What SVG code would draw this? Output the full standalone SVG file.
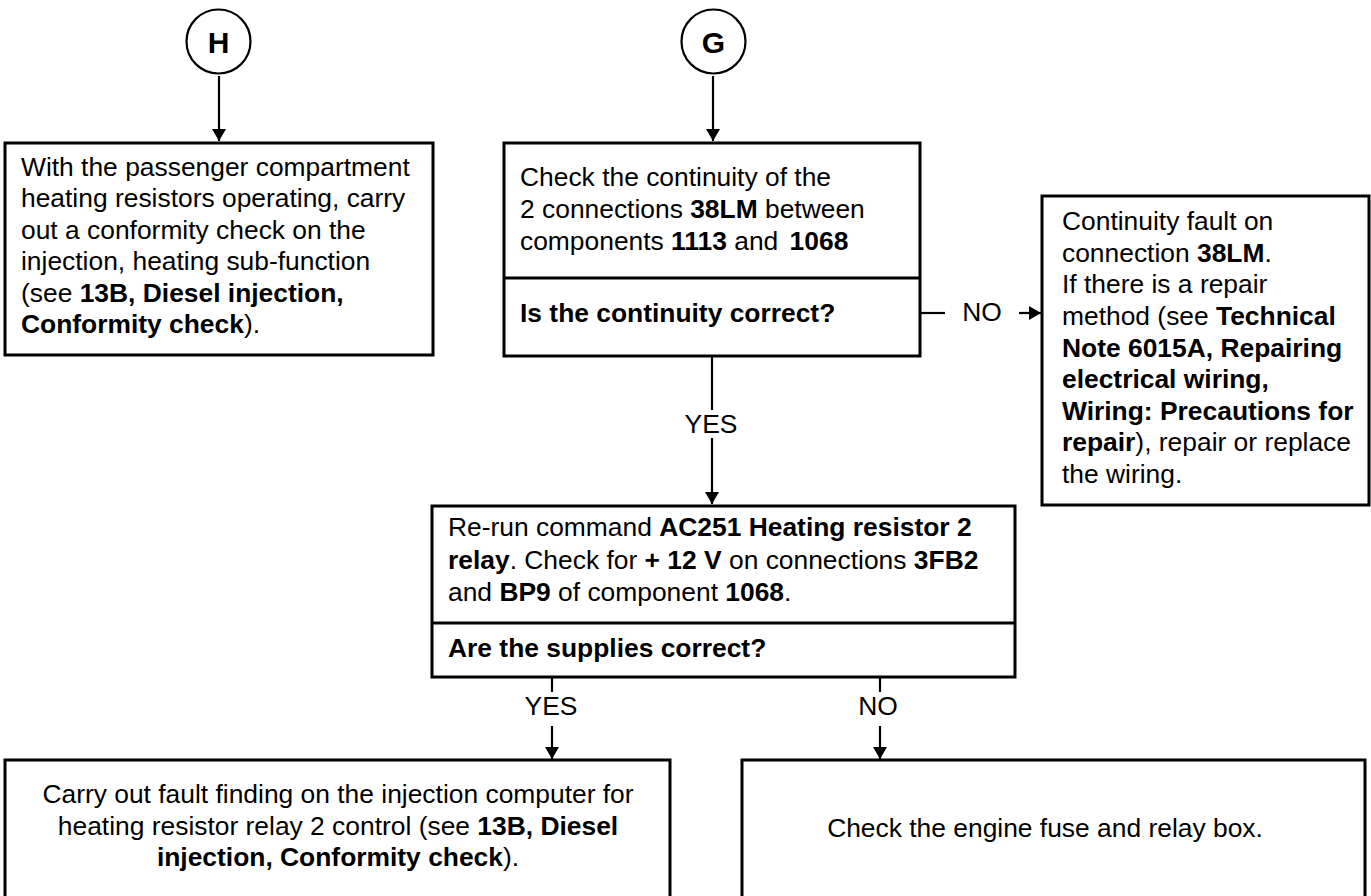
<svg xmlns="http://www.w3.org/2000/svg" width="1371" height="896" viewBox="0 0 1371 896">
<style>
text{font-family:"Liberation Sans",Arial,sans-serif;font-size:26.4px;fill:#000}
.b{font-weight:bold}
.box{fill:#fff;stroke:#000;stroke-width:3}
.sep{stroke:#000;stroke-width:3}
.circ{fill:#fff;stroke:#000;stroke-width:2.2}
.ltr{font-size:30px;font-weight:bold;text-anchor:middle}
.con{stroke:#000;stroke-width:2.2;fill:none}
.lbl{text-anchor:middle}
.mid{text-anchor:middle}
</style>
<defs>
<marker id="ah" markerUnits="userSpaceOnUse" markerWidth="14" markerHeight="14" refX="12" refY="7" orient="auto">
<path d="M0,0 L12,7 L0,14 z" fill="#000"/>
</marker>
</defs>
<rect width="1371" height="896" fill="#fff"/>

<g id="conn">
<line class="con" x1="219" y1="76" x2="219" y2="141" marker-end="url(#ah)"/>
<line class="con" x1="713" y1="76" x2="713" y2="141" marker-end="url(#ah)"/>
<line class="con" x1="920" y1="313" x2="945" y2="313"/>
<text class="lbl" x="982" y="321">NO</text>
<line class="con" x1="1019" y1="313" x2="1041" y2="313" marker-end="url(#ah)"/>
<line class="con" x1="712" y1="356" x2="712" y2="410"/>
<text class="lbl" x="711" y="433">YES</text>
<line class="con" x1="712" y1="438" x2="712" y2="504" marker-end="url(#ah)"/>
<line class="con" x1="552" y1="677" x2="552" y2="692"/>
<text class="lbl" x="551" y="715">YES</text>
<line class="con" x1="552" y1="726" x2="552" y2="759" marker-end="url(#ah)"/>
<line class="con" x1="880" y1="677" x2="880" y2="692"/>
<text class="lbl" x="878" y="715">NO</text>
<line class="con" x1="880" y1="726" x2="880" y2="759" marker-end="url(#ah)"/>
</g>

<g id="nodeH">
<circle class="circ" cx="218.5" cy="41.5" r="32"/>
<text class="ltr" x="218.5" y="53">H</text>
</g>

<g id="nodeG">
<circle class="circ" cx="713.5" cy="41.5" r="32"/>
<text class="ltr" x="713.5" y="53">G</text>
</g>

<g id="boxH">
<rect class="box" x="5" y="143" width="428" height="212"/>
<text x="21" y="175.5">With the passenger compartment</text>
<text x="21" y="207">heating resistors operating, carry</text>
<text x="21" y="238.5">out a conformity check on the</text>
<text x="21" y="270">injection, heating sub-function</text>
<text x="21" y="301.5">(see <tspan class="b">13B, Diesel injection,</tspan></text>
<text x="21" y="333"><tspan class="b">Conformity check</tspan>).</text>
</g>

<g id="boxG">
<rect class="box" x="504" y="143" width="416" height="213"/>
<line class="sep" x1="504" y1="278" x2="920" y2="278"/>
<text x="520" y="185.5">Check the continuity of the</text>
<text x="520" y="218">2 connections <tspan class="b">38LM</tspan> between</text>
<text x="520" y="250">components <tspan class="b">1113</tspan> and <tspan class="b" dx="4">1068</tspan></text>
<text class="b" x="520" y="321.5">Is the continuity correct?</text>
</g>

<g id="boxFault">
<rect class="box" x="1042" y="196" width="327" height="309"/>
<text x="1062" y="230">Continuity fault on</text>
<text x="1062" y="261.7">connection <tspan class="b">38LM</tspan>.</text>
<text x="1062" y="293.3">If there is a repair</text>
<text x="1062" y="325">method (see <tspan class="b">Technical</tspan></text>
<text class="b" x="1062" y="356.7">Note 6015A, Repairing</text>
<text class="b" x="1062" y="388.3">electrical wiring,</text>
<text class="b" x="1062" y="419.5">Wiring: Precautions for</text>
<text x="1062" y="451"><tspan class="b">repair</tspan>), repair or replace</text>
<text x="1062" y="482.5">the wiring.</text>
</g>

<g id="boxRerun">
<rect class="box" x="432" y="506" width="583" height="171"/>
<line class="sep" x1="432" y1="623" x2="1015" y2="623"/>
<text x="448" y="536">Re-run command <tspan class="b">AC251 Heating resistor 2</tspan></text>
<text x="448" y="568.5"><tspan class="b">relay</tspan>. Check for <tspan class="b">+ 12 V</tspan> on connections <tspan class="b">3FB2</tspan></text>
<text x="448" y="601"><tspan>and </tspan><tspan class="b">BP9</tspan> of component <tspan class="b">1068</tspan>.</text>
<text class="b" x="448" y="656.5">Are the supplies correct?</text>
</g>

<g id="boxComputer">
<rect class="box" x="5" y="760" width="665" height="140"/>
<text class="mid" x="338" y="803.3">Carry out fault finding on the injection computer for</text>
<text class="mid" x="338" y="834.5">heating resistor relay 2 control (see <tspan class="b">13B, Diesel</tspan></text>
<text class="mid" x="338" y="866"><tspan class="b">injection, Conformity check</tspan>).</text>
</g>

<g id="boxFuse">
<rect class="box" x="742" y="760" width="623" height="140"/>
<text class="mid" x="1045" y="836.5">Check the engine fuse and relay box.</text>
</g>
</svg>
